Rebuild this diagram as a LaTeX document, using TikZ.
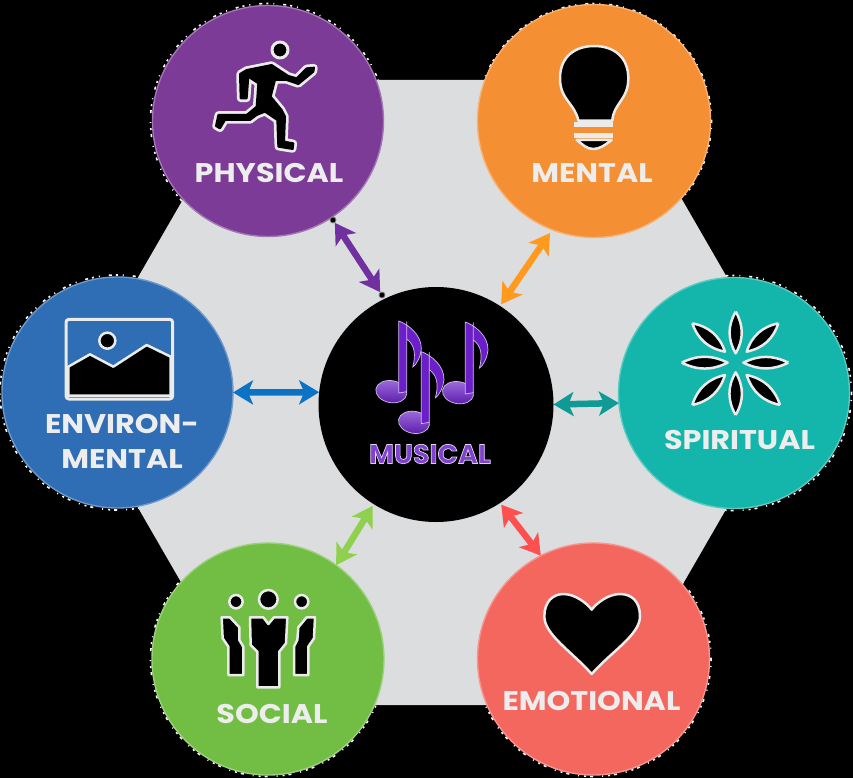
\documentclass[tikz,border=0pt]{standalone}
\usepackage{fontspec}
\setmainfont{Poppins}
\newfontfamily\labfont[FakeStretch=1.12]{Poppins}
\usetikzlibrary{arrows.meta}
\definecolor{cgray}{HTML}{DCDDDF}
\definecolor{cpurple}{HTML}{7B3B96}
\definecolor{corange}{HTML}{F58F33}
\definecolor{cblue}{HTML}{2F6DB5}
\definecolor{cteal}{HTML}{14B5AA}
\definecolor{cgreen}{HTML}{72BE44}
\definecolor{ccoral}{HTML}{F4675F}
\definecolor{anote}{HTML}{6A1FC8}
\definecolor{apurple}{HTML}{7030A0}
\definecolor{aorange}{HTML}{FF9A1E}
\definecolor{ablue}{HTML}{0B72C4}
\definecolor{ateal}{HTML}{0F9A96}
\definecolor{agreen}{HTML}{8FD14F}
\definecolor{acoral}{HTML}{FF5050}
\tikzset{
 x=1pt,y=-1pt,
 disc/.style={circle,draw=#1!70!white,line width=1.4pt,fill=#1,minimum size=231pt,inner sep=0pt,outer sep=0pt},
 lab/.style={text=white!93!black,font=\labfont\fontsize{27}{27}\selectfont\bfseries,inner sep=0pt,anchor=center},
 icon/.style={fill=black,draw=white!92!black,line width=2.5pt,line join=round},
 limb/.style={fill=black,draw=black,line width=2pt,line join=round,preaction={draw=white!92!black,line width=7.5pt,line join=round}},
 fringe/.style={draw=white,line width=1.6pt,dash pattern=on 2pt off 5pt on 1pt off 9pt on 3pt off 4pt},
 biarrow/.style={draw=#1,line width=6.5pt,{Stealth[length=20pt,width=24pt,inset=5pt,fill=#1]}-{Stealth[length=20pt,width=24pt,inset=5pt,fill=#1]}},
 handle/.style={circle,fill=black,draw=gray,line width=.8pt,minimum size=6pt,inner sep=0pt},
 notebody/.style={fill=anote,draw=white!70!anote,line width=.7pt,line join=round},
}
\newcommand{\noteglyph}[2]{%
 \begin{scope}[shift={(#1,#2)}]
  \shade[top color=anote!65!white,bottom color=anote!85!black,draw=white!70!anote,line width=.7pt,rotate around={-10:(-46,210)}] (-46,210) ellipse (47 and 33);
  \path[notebody] (0,0) -- (0,210) -- (-24,214) -- (-24,-2) .. controls (5,8) and (45,40) .. (44,82) .. controls (42,105) and (30,128) .. (18,137) .. controls (28,100) and (25,70) .. (0,52) -- cycle;
 \end{scope}}
\begin{document}
\begin{tikzpicture}
\useasboundingbox (0,0) rectangle (853,778);
\fill[black] (0,0) rectangle (853,778);
% fringes
\foreach \p in {(268,121),(594,121),(117.5,392.5),(734,393),(268,659),(593.5,659)}
  \draw[fringe] \p circle (117.5);
\fill[cgray] (252,80) -- (613,80) -- (793.5,392.5) -- (613,705) -- (252,705) -- (71.5,392.5) -- cycle;
% discs
\node[disc=cpurple] (phys) at (268,121) {};
\node[disc=corange,minimum size=233pt] (ment) at (594,121) {};
\node[disc=cblue] (envi) at (117.5,392.5) {};
\node[disc=cteal] (spir) at (734,393) {};
\node[disc=cgreen,minimum size=232pt] (soci) at (268,659) {};
\node[disc=ccoral,minimum size=232pt] (emot) at (593.5,659) {};
\node[circle,fill=black,minimum size=235pt,inner sep=0pt,outer sep=0pt] (musi) at (436,404.5) {};
% connectors
\node[handle] (hp) at (333,220) {};
\node[handle] (hm) at (382,295) {};
\draw[biarrow=apurple] (hp) -- (hm);
\draw[biarrow=aorange,shorten >=4pt,shorten <=2pt] (musi.57) -- (ment.-111);
\draw[biarrow=ablue] (envi.0) -- (musi.174);
\draw[biarrow=ateal] (musi.0) -- (spir.185);
\draw[biarrow=agreen,shorten >=2pt] (soci.54) -- (musi.-122);
\draw[biarrow=acoral,shorten >=2pt] (emot.117) -- (musi.-57);
% runner
\begin{scope}[shift={(150,0)},scale=1/3]
 \draw[icon,line width=3pt] (390,150) circle (24);
 \draw[limb] (272,295)--(270,222)--(290,210)--(365,195)--(395,215)--(415,228)--(440,235)--(470,205)--(492,203)--(490,215)--(445,252)--(410,240)--(375,240)--(362,290)--(395,330)--(405,350)--(402,425)--(430,430)--(428,447)--(385,440)--(382,360)--(345,335)--(320,345)--(300,360)--(225,360)--(210,385)--(198,378)--(205,345)--(290,345)--(320,320)--(325,250)--(295,230)--(290,295)--cycle;
\end{scope}
% bulb
\begin{scope}[shift={(475,0)},scale=1/3]
 \draw[icon] (310,362) .. controls (300,310) and (255,300) .. (255,235) .. controls (255,170) and (300,138) .. (358,138) .. controls (415,138) and (460,170) .. (460,235) .. controls (460,300) and (415,310) .. (412,362) -- cycle;
 \fill[white!92!black] (298,366) rectangle (415,381);
 \fill[white!92!black] (298,398) rectangle (415,413);
 \draw[icon] (305,420) -- (410,420) .. controls (390,435) and (375,447) .. (355,447) .. controls (335,447) and (325,435) .. (305,420) -- cycle;
\end{scope}
% landscape
\begin{scope}[shift={(0,275)},scale=1/3]
 \draw[draw=white!92!black,line width=3pt,rounded corners=3pt] (198,133) rectangle (518,372);
 \draw[icon] (205,275) -- (270,238) -- (340,275) -- (440,210) -- (512,245) -- (512,362) -- (205,362) -- cycle;
 \draw[icon] (322,197) circle (24);
\end{scope}
% flower
\begin{scope}[shift={(615,275)},scale=1/3]
 \draw[icon] (362,110) to[bend left=30] (362,235) to[bend left=30] (362,110);
 \draw[icon] (362,420) to[bend left=30] (362,292) to[bend left=30] (362,420);
 \draw[icon] (200,263) to[bend left=26] (338,263) to[bend left=26] (200,263);
 \draw[icon] (520,263) to[bend left=26] (385,263) to[bend left=26] (520,263);
 \draw[icon] (232,145) to[bend left=30] (330,230) to[bend left=30] (232,145);
 \draw[icon] (490,145) to[bend left=30] (395,230) to[bend left=30] (490,145);
 \draw[icon] (232,390) to[bend left=30] (330,300) to[bend left=30] (232,390);
 \draw[icon] (495,390) to[bend left=30] (395,300) to[bend left=30] (495,390);
\end{scope}
% people
\begin{scope}[shift={(150,540)},scale=1/3]
 \draw[icon] (258,185) circle (20);
 \draw[icon] (355,178) circle (28);
 \draw[icon] (455,185) circle (20);
 \draw[icon] (300,232)--(340,232)--(355,252)--(372,232)--(412,232)--(408,310)--(388,335)--(388,442)--(322,442)--(322,335)--(302,315)--cycle;
 \draw[icon] (215,232)--(240,232)--(268,262)--(268,300)--(280,320)--(280,405)--(235,405)--(235,320)--(218,295)--cycle;
 \draw[icon] (495,232)--(470,232)--(445,262)--(442,300)--(432,320)--(432,405)--(475,405)--(475,320)--(492,295)--cycle;
\end{scope}
% heart
\begin{scope}[shift={(475,538)},scale=1/3]
 \draw[icon] (350,408) .. controls (290,340) and (208,290) .. (208,235) .. controls (208,190) and (235,168) .. (265,168) .. controls (300,168) and (335,195) .. (350,215) .. controls (365,195) and (400,168) .. (435,168) .. controls (470,168) and (495,190) .. (495,235) .. controls (495,290) and (410,340) .. (350,408) -- cycle;
\end{scope}
% notes
\begin{scope}[shift={(320,285)},scale=1/3]
 \noteglyph{260}{110}
 \noteglyph{460}{113}
 \noteglyph{328}{202}
\end{scope}
% labels
\node[lab] (lp) at (269,173) {PHYSICAL};
\node[lab] (lm) at (592,173) {MENTAL};
\node[lab,align=center,font=\labfont\fontsize{27}{35}\selectfont\bfseries] (le) at (122,441) {ENVIRON-\\MENTAL};
\node[lab] (ls) at (739.5,440) {SPIRITUAL};
\node[lab] (lo) at (272,714) {SOCIAL};
\node[lab] (lt) at (591.5,701) {EMOTIONAL};
\node[lab,text=anote!85!white,font=\fontsize{27}{27}\selectfont\bfseries] (lu) at (430,454) {\special{pdf:code 2 Tr 0.7 w 0.88 0.84 0.95 RG}MUSICAL\special{pdf:code 0 Tr 0 0 0 RG}};
\end{tikzpicture}
\end{document}
